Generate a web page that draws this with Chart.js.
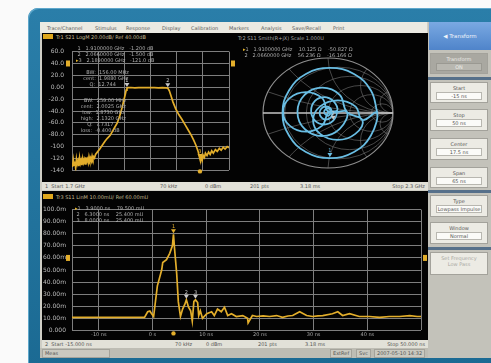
<!DOCTYPE html>
<html lang="en">
<head>
<meta charset="utf-8">
<title>Network analyzer – band-pass filter and time domain</title>
<script src="https://cdn.jsdelivr.net/npm/chart.js@4.4.1/dist/chart.umd.min.js"></script>
<style>
  html, body { margin:0; padding:0; }
  body { width:491px; height:363px; overflow:hidden; background:#fafafa; position:relative;
         font-family:"DejaVu Sans", "Liberation Sans", sans-serif; }
  .a { position:absolute; }
  #frame { left:28px; top:8px; width:470px; height:362px; border-radius:10px 0 0 0;
           background:linear-gradient(180deg,#2a7ea9 0%,#1b6a93 100%);
           box-shadow: inset 1px 1px 0 #5ea7cb; }
  #win { left:40px; top:22px; width:451px; height:336px; background:#cfcec5; }
  #menu { left:40px; top:22px; width:387px; height:11px; background:#ebeae2; font-size:5px; color:#5a5a5a; }
  #menu span { position:absolute; top:3px; white-space:nowrap; }
  .blk { background:#030303; }
  .badge { width:10px; height:5px; background:#e0a81c; }
  .ttl { font-size:5px; color:#c2bb92; white-space:nowrap; }
  .rd { font-size:5px; color:#aeaeae; white-space:pre; line-height:6px; }
  .rd .act { color:#e6b52a; }
  .bar { background:#e2e1d8; font-size:5px; color:#555; }
  .bar span { position:absolute; top:1px; white-space:nowrap; }
  canvas { position:absolute; }
  #side { left:428px; top:22px; width:63px; height:336px; background:#c3c2ba; }
  #side .hdr { position:absolute; left:1px; top:0; width:62px; height:28px;
               background:linear-gradient(180deg,#7aa9e2 0%,#4f84ca 100%);
               color:#eef3fa; font-size:5.5px; text-align:center; line-height:28px; }
  #side .btn { position:absolute; left:2px; width:58px; background:#ecebe4; border:1px solid #a3a29b;
               font-size:5px; color:#555; text-align:center; line-height:6px; padding-top:2px; box-sizing:border-box; }
  #side .btn .v { margin:1px 5px 0; background:#fbfbf8; border:1px solid #b8b7b0; line-height:6px; }
  #side .btn.dark { background:#a9a8a1; color:#eeeeea; }
  #side .btn.dark .v { background:#b8b7b0; border-color:#9a9992; }
  #side .btn.off { color:#a9a8a2; }
  #side .sep { position:absolute; left:0; width:63px; height:3px; background:#56708a; }
  #foot { left:40px; top:348px; width:388px; height:10px; background:#bebdb4; font-size:5px; color:#555; }
  #foot span { position:absolute; top:1px; height:7px; line-height:7px; padding:0 2px; white-space:nowrap;
               border:1px solid #a4a39b; background:#cac9c0; }
</style>
</head>
<body>
<div id="frame" class="a"></div>
<div id="win" class="a"></div>
<div id="menu" class="a">
  <span style="left:7px">Trace/Channel</span>
  <span style="left:55px">Stimulus</span>
  <span style="left:86px">Response</span>
  <span style="left:122px">Display</span>
  <span style="left:151px">Calibration</span>
  <span style="left:189px">Markers</span>
  <span style="left:221px">Analysis</span>
  <span style="left:252px">Save/Recall</span>
  <span style="left:293px">Print</span>
</div>

<!-- upper window: S21 log magnitude and S11 Smith chart -->
<div class="a blk" style="left:42px;top:33px;width:386px;height:149px"></div>
<div class="a badge" style="left:43px;top:34px"></div>
<div class="a ttl" style="left:56px;top:34px">Tr1 S21 LogM 20.00dB/ Ref 40.00dB</div>
<div class="a ttl" style="left:238px;top:35px;color:#a8a8a8">Tr2 S11 Smith(R+jX) Scale 1.000U</div>
<canvas id="s21Chart" width="193" height="142" style="left:42px;top:40px;width:193px;height:142px"></canvas>
<canvas id="smithChart" width="192" height="142" style="left:235px;top:40px;width:192px;height:142px"></canvas>
<div id="s21Readout" class="a rd" style="left:76px;top:45px"></div>
<div id="s21Bw" class="a rd" style="left:80px;top:69px"></div>
<div id="s21Bw60" class="a rd" style="left:76px;top:97px"></div>
<div id="smithReadout" class="a rd" style="left:243px;top:46px"></div>
<div class="a bar" style="left:42px;top:182px;width:386px;height:8px">
  <span style="left:3px">1&nbsp; Start 1.7 GHz</span>
  <span style="left:118px">70 kHz</span>
  <span style="left:163px">0 dBm</span>
  <span style="left:208px">201 pts</span>
  <span style="left:258px">3.18 ms</span>
  <span style="right:3px">Stop 2.3 GHz</span>
</div>

<!-- lower window: time-domain transform of S11 -->
<div class="a blk" style="left:42px;top:191px;width:386px;height:149px"></div>
<div class="a badge" style="left:43px;top:194px"></div>
<div class="a ttl" style="left:56px;top:194px">Tr3 S11 LinM 10.00mU/ Ref 60.00mU</div>
<canvas id="tdChart" width="385" height="140" style="left:42px;top:200px;width:385px;height:140px"></canvas>
<div id="tdReadout" class="a rd" style="left:75px;top:205px"></div>
<div class="a bar" style="left:42px;top:340px;width:386px;height:8px">
  <span style="left:3px">2&nbsp; Start -15.000 ns</span>
  <span style="left:133px">70 kHz</span>
  <span style="left:164px">0 dBm</span>
  <span style="left:216px">201 pts</span>
  <span style="left:263px">3.18 ms</span>
  <span style="right:3px">Stop 50.000 ns</span>
</div>
<div id="foot" class="a">
  <span style="left:2px;width:62px">Meas</span>
  <span style="left:290px">ExtRef</span>
  <span style="left:316px">Svc</span>
  <span style="left:334px">2007-05-10 14:32</span>
</div>

<!-- softkey panel -->
<div id="side" class="a">
  <div class="hdr">&#9664; Transform</div>
  <div class="btn dark" style="top:31px;height:21px">Transform<div class="v">ON</div></div>
  <div class="sep" style="top:55px"></div>
  <div class="btn" style="top:60px;height:21px">Start<div class="v">-15 ns</div></div>
  <div class="btn" style="top:87px;height:22px">Stop<div class="v">50 ns</div></div>
  <div class="btn" style="top:116px;height:22px">Center<div class="v">17.5 ns</div></div>
  <div class="btn" style="top:145px;height:21px">Span<div class="v">65 ns</div></div>
  <div class="sep" style="top:168px"></div>
  <div class="btn" style="top:173px;height:22px">Type<div class="v">Lowpass Impulse</div></div>
  <div class="btn" style="top:200px;height:22px">Window<div class="v">Normal</div></div>
  <div class="sep" style="top:225px"></div>
  <div class="btn off" style="top:230px;height:23px">Set Frequency<br>Low Pass</div>
</div>

<script>
// ---------- S21 band-pass response (log magnitude) ----------
const s21FreqMHz = [
  1700, 1702, 1705, 1708, 1711, 1714, 1717, 1720, 1723, 1726,
  1729, 1732, 1735, 1738, 1741, 1744, 1747, 1750, 1753, 1756,
  1759, 1762, 1765, 1768, 1771, 1774, 1777, 1780, 1783, 1786,
  1790, 1799, 1806, 1817, 1826, 1835, 1846, 1855, 1864, 1873,
  1882, 1891, 1897, 1903, 1907, 1910, 1913, 1925, 1940, 1955,
  1970, 1985, 2000, 2015, 2030, 2045, 2060, 2066, 2072, 2078,
  2086, 2096, 2108, 2120, 2132, 2144, 2156, 2165, 2174, 2182,
  2186, 2189, 2192, 2195, 2198, 2201, 2206, 2210, 2216, 2222,
  2228, 2234, 2240, 2248, 2255, 2263, 2270, 2278, 2285, 2293,
  2300
];
const s21Db = [
  -127, -134, -122, -131, -125, -136, -121, -129, -124, -133,
  -119, -128, -123, -131, -120, -127, -122, -129, -118, -125,
  -121, -127, -117, -123, -119, -124, -116, -121, -117, -119,
  -113, -108, -104, -97, -91, -86, -81, -74, -67, -60,
  -49, -35, -24, -13, -5, -1.2, -0.6, -0.4, -0.9, -0.5,
  -0.8, -0.4, -0.7, -0.5, -0.9, -0.6, -1.0, -1.5, -6, -14,
  -25, -36, -46, -54, -63, -72, -81, -89, -98, -108,
  -116, -121, -124, -117, -122, -114, -118, -111, -115, -109,
  -113, -107, -111, -105, -108, -103, -106, -101, -104, -100,
  -102
];
const s21TicksDb  = [60, 40, 20, 0, -20, -40, -60, -80, -100, -120, -140];
const s21TicksMHz = [1700, 1800, 1900, 2000, 2100, 2200, 2300];
const s21MarkersMHz = [1910, 2066, 2189];
const s21RefDb = 40;

// ---------- S11 on the Smith chart (reflection coefficient) ----------
const s11Re = [
  0.76, 0.66, 0.40, 0.03, -0.34, -0.60, -0.70, -0.60, -0.34, 0.03, 0.40, 0.66, 0.75,
  0.53, 0.42, 0.15, -0.12, -0.23, -0.12, 0.15, 0.42, 0.53,
  0.29, 0.18, -0.09, -0.36, -0.47, -0.36, -0.09, 0.18, 0.29,
  0.01, -0.09, -0.34, -0.59, -0.69, -0.59, -0.34, -0.09, 0.01,
  0.14, 0.08, -0.06, -0.20, -0.26, -0.20, -0.06, 0.08, 0.14,
  0.07, 0.04, -0.03, -0.10, -0.13, -0.10, -0.03, 0.04, 0.07,
  0.06, 0.00, -0.06, 0.00, 0.06
];
const s11Im = [
  0.00, 0.41, 0.71, 0.82, 0.71, 0.41, 0.00, -0.41, -0.71, -0.82, -0.71, -0.41, 0.01,
  -0.13, 0.12, 0.23, 0.12, -0.13, -0.38, -0.49, -0.38, -0.13,
  0.02, 0.33, 0.46, 0.33, 0.02, -0.29, -0.42, -0.29, 0.02,
  0.02, 0.27, 0.38, 0.27, 0.02, -0.23, -0.34, -0.23, 0.02,
  0.04, 0.22, 0.29, 0.22, 0.04, -0.14, -0.21, -0.14, 0.04,
  0.00, 0.085, 0.12, 0.085, 0.00, -0.085, -0.12, -0.085, 0.00,
  0.02, 0.09, 0.02, -0.05, 0.02
];
const smithMarkerIdx = [9, 47];
const smithResistances = [0.2, 0.5, 1, 2, 5];
const smithReactances  = [0.2, 0.5, 1, 2, 5];

// ---------- time-domain transform (linear magnitude, mU) ----------
const tdTimeNs = [
  -15, -1.5, -0.9, -0.5, -0.2, 0.2, 0.9, 1.7, 1.9, 2.6,
  3.2, 3.7, 3.9, 4.1, 4.5, 4.8, 5.2, 5.6, 6.0, 6.3,
  6.7, 7.1, 7.4, 7.7, 8.0, 8.4, 8.6, 8.9, 9.3, 10.1,
  11.0, 11.5, 12.1, 12.8, 13.4, 14.0, 14.7, 15.6, 16.8, 17.7,
  17.8, 18.6, 19.4, 20.6, 21.8, 23.1, 24.2, 25.2, 26.1, 27.4,
  28.7, 29.8, 30.8, 31.7, 33.5, 34.5, 35.4, 36.7, 38.5, 40.4,
  42.3, 44.1, 46.0, 47.9, 49.3, 50.0
];
const tdLinMagMU = [
  10.8, 10.8, 15.4, 16.0, 14.0, 11.5, 36.9, 50.0, 56.2, 58.5,
  63.8, 70.0, 79.5, 67.7, 46.9, 23.8, 11.5, 17.7, 21.5, 25.4,
  19.2, 16.2, 7.7, 24.0, 25.4, 23.1, 12.3, 16.2, 10.0, 13.8,
  15.4, 12.3, 17.7, 15.4, 19.2, 12.3, 13.8, 11.5, 12.3, 10.0,
  6.2, 12.3, 11.5, 12.0, 11.5, 12.3, 10.8, 11.9, 12.3, 15.4,
  12.3, 11.5, 12.0, 12.3, 13.8, 15.4, 12.3, 13.8, 11.5, 11.5,
  10.8, 11.5, 11.5, 12.3, 11.5, 11.5
];
const tdTicksMU = [0, 10, 20, 30, 40, 50, 60, 70, 80, 90, 100];
const tdTicksNs = [-15, -10, 0, 10, 20, 30, 40, 50];
const tdMarkersNs = [3.9, 6.3, 8.0];
const tdRefMU = 60;

// ---------- shared drawing helpers ----------
const TRACE_YELLOW = '#e3ae2b';
const GRID = '#7e7e7e';
const FONT = '"DejaVu Sans", "Liberation Sans", sans-serif';
Chart.defaults.font.family = FONT;

const pairs = (xs, ys) => xs.map((x, i) => ({ x, y: ys[i] }));
const setTicks = list => scale => { scale.ticks = list.map(v => ({ value: v })); };

// reference-position arrows on both sides of the grid
const refMarker = {
  id: 'refMarker',
  afterDraw(chart, args, opts) {
    if (opts.value === undefined) return;
    const { ctx, chartArea: a } = chart;
    const yy = chart.scales.y.getPixelForValue(opts.value);
    ctx.save();
    ctx.fillStyle = opts.color || TRACE_YELLOW;
    ctx.fillRect(a.left - 6, yy - 3, 4, 6);
    ctx.fillRect(a.right + 2, yy - 3, 4, 6);
    ctx.restore();
  }
};

// numbered marker flags on the trace, active one also flagged on the axis
const traceMarkers = {
  id: 'traceMarkers',
  afterDatasetsDraw(chart, args, opts) {
    if (!opts.points) return;
    const { ctx, chartArea: a, scales: { x, y } } = chart;
    ctx.save();
    ctx.font = '5px ' + FONT;
    ctx.textAlign = 'center';
    opts.points.forEach((p, i) => {
      const px = x.getPixelForValue(p.x), py = y.getPixelForValue(p.y);
      const active = i === opts.active;
      ctx.fillStyle = active ? (opts.activeColor || TRACE_YELLOW) : '#c8c8c8';
      ctx.beginPath();
      ctx.moveTo(px - 2.5, py - 5); ctx.lineTo(px + 2.5, py - 5); ctx.lineTo(px, py - 1);
      ctx.closePath(); ctx.fill();
      ctx.fillText(String(i + 1), px, py - 6);
      if (active && opts.axisFlag) {
        ctx.fillStyle = TRACE_YELLOW;
        ctx.beginPath(); ctx.arc(px, a.bottom + opts.axisFlag, 2.2, 0, 2 * Math.PI); ctx.fill();
      }
    });
    ctx.restore();
  }
};

// Smith chart grid built on the chart's own x/y scales (reflection plane)
const smithGrid = {
  id: 'smithGrid',
  beforeDatasetsDraw(chart) {
    const { ctx, scales: { x, y } } = chart;
    const cx = x.getPixelForValue(0), cy = y.getPixelForValue(0);
    const sx = x.getPixelForValue(1) - cx, sy = cy - y.getPixelForValue(1);
    const base = ctx.getTransform();
    const unitArc = (ux, uy, r) => {
      ctx.beginPath();
      ctx.translate(cx, cy); ctx.scale(sx, -sy);
      ctx.arc(ux, uy, r, 0, 2 * Math.PI);
      ctx.setTransform(base);
    };
    ctx.save();
    unitArc(0, 0, 1);
    ctx.clip();
    ctx.lineWidth = 1;
    ctx.strokeStyle = 'rgba(130,130,130,0.55)';
    smithResistances.forEach(r => { unitArc(r / (1 + r), 0, 1 / (1 + r)); ctx.stroke(); });
    smithReactances.forEach(xv => {
      unitArc(1, 1 / xv, 1 / xv); ctx.stroke();
      unitArc(1, -1 / xv, 1 / xv); ctx.stroke();
    });
    ctx.restore();
    ctx.save();
    ctx.strokeStyle = '#8e8e8e'; ctx.lineWidth = 1.2;
    unitArc(0, 0, 1); ctx.stroke();
    ctx.strokeStyle = '#c6c6c6'; ctx.lineWidth = 1.5;
    ctx.beginPath();
    ctx.moveTo(x.getPixelForValue(-1), cy); ctx.lineTo(x.getPixelForValue(1), cy);
    ctx.stroke();
    ctx.restore();
  }
};

const gridOpts = { color: GRID, lineWidth: 1, drawTicks: false };
const noAxisBox = { display: false };
const tickFont = { size: 6 };
const tickColor = '#bdbdbd';

// ---------- upper-left: S21 LogM ----------
const fmtDb = v => Math.abs(v) >= 100 ? v.toFixed(0) : (v === 0 ? '0.00' : v.toFixed(1));
const s21MarkerPts = s21MarkersMHz.map(f => ({ x: f, y: s21Db[s21FreqMHz.indexOf(f)] }));

new Chart(document.getElementById('s21Chart'), {
  type: 'line',
  data: { datasets: [{
    data: pairs(s21FreqMHz, s21Db),
    borderColor: TRACE_YELLOW, borderWidth: 1.7, pointRadius: 0, tension: 0
  }]},
  options: {
    responsive: false, animation: false, devicePixelRatio: 1, events: [],
    layout: { padding: { left: 0, right: 6, top: 7, bottom: 8 } },
    plugins: {
      legend: { display: false }, tooltip: { enabled: false },
      refMarker: { value: s21RefDb },
      traceMarkers: { points: s21MarkerPts, active: 2, axisFlag: 1 }
    },
    scales: {
      x: { type: 'linear', min: 1700, max: 2300, afterBuildTicks: setTicks(s21TicksMHz),
           ticks: { display: false }, grid: gridOpts, border: noAxisBox,
           afterFit: s => { s.height = 0; } },
      y: { type: 'linear', min: -140, max: 60, afterBuildTicks: setTicks(s21TicksDb),
           ticks: { color: tickColor, font: tickFont, padding: 8, callback: fmtDb },
           grid: gridOpts, border: noAxisBox, afterFit: s => { s.width = 30; } }
    }
  },
  plugins: [refMarker, traceMarkers]
});

// ---------- upper-right: S11 Smith chart ----------
const smithPts = pairs(s11Re, s11Im);
new Chart(document.getElementById('smithChart'), {
  type: 'scatter',
  data: { datasets: [{
    data: smithPts, showLine: true,
    borderColor: '#69bde3', borderWidth: 1.8, pointRadius: 0, tension: 0.42
  }]},
  options: {
    responsive: false, animation: false, devicePixelRatio: 1, events: [],
    layout: { padding: { left: 28, right: 34, top: 18, bottom: 14 } },
    plugins: {
      legend: { display: false }, tooltip: { enabled: false },
      traceMarkers: { points: smithMarkerIdx.map(i => smithPts[i]), active: 0, activeColor: '#69bde3' }
    },
    scales: {
      x: { type: 'linear', min: -1, max: 1, display: false },
      y: { type: 'linear', min: -1, max: 1, display: false }
    }
  },
  plugins: [smithGrid, traceMarkers]
});

// ---------- lower: time-domain LinM ----------
const fmtMU = v => v === 0 ? '0.000' : (v >= 100 ? v.toFixed(1) + 'm' : v.toFixed(2) + 'm');
const fmtNs = v => (v === tdTicksNs[0] || v === tdTicksNs[tdTicksNs.length - 1]) ? '' : (v === 0 ? '0 s' : v + ' ns');
const tdMarkerPts = tdMarkersNs.map(t => ({ x: t, y: tdLinMagMU[tdTimeNs.indexOf(t)] }));

new Chart(document.getElementById('tdChart'), {
  type: 'line',
  data: { datasets: [{
    data: pairs(tdTimeNs, tdLinMagMU),
    borderColor: TRACE_YELLOW, borderWidth: 1.7, pointRadius: 0, tension: 0
  }]},
  options: {
    responsive: false, animation: false, devicePixelRatio: 1, events: [],
    layout: { padding: { left: 0, right: 6, top: 3, bottom: 0 } },
    plugins: {
      legend: { display: false }, tooltip: { enabled: false },
      refMarker: { value: tdRefMU },
      traceMarkers: { points: tdMarkerPts, active: 0, axisFlag: 3 }
    },
    scales: {
      x: { type: 'linear', min: -15, max: 50, afterBuildTicks: setTicks(tdTicksNs),
           ticks: { color: '#a8a8a8', font: { size: 5 }, padding: 1, maxRotation: 0, autoSkip: false, callback: fmtNs },
           grid: gridOpts, border: noAxisBox, afterFit: s => { s.height = 7; } },
      y: { type: 'linear', min: 0, max: 100, afterBuildTicks: setTicks(tdTicksMU),
           ticks: { color: tickColor, font: tickFont, padding: 6, callback: fmtMU },
           grid: gridOpts, border: noAxisBox, afterFit: s => { s.width = 30; } }
    }
  },
  plugins: [refMarker, traceMarkers]
});

// ---------- marker readouts, taken from the plotted data ----------
const ghz = f => (f / 1000).toFixed(7) + ' GHz';
const db = v => (Math.abs(v) >= 100 ? v.toFixed(1) : v.toFixed(3)) + ' dB';
const line = (txt, active) => active ? '<span class="act">&#9656;</span>' + txt : ' ' + txt;

document.getElementById('s21Readout').innerHTML = s21MarkerPts
  .map((p, i) => line(`${i + 1}   ${ghz(p.x)}   ${db(p.y)}`, i === 2)).join('\n');

const [m1, m2] = s21MarkerPts;
const bw = m2.x - m1.x, cent = (m1.x + m2.x) / 2;
document.getElementById('s21Bw').textContent =
  `    BW:  ${bw.toFixed(2)} MHz\n  cent:  ${(cent / 1000).toFixed(4)} GHz\n      Q:  ${(cent / bw).toFixed(3)}`;

const peakIdx = s21Db.indexOf(Math.max(...s21Db));
const lowIdx = s21Db.findIndex(v => v >= -60);
const highIdx = s21Db.findIndex((v, i) => i > peakIdx && v <= -60);
const fl = s21FreqMHz[lowIdx], fh = s21FreqMHz[highIdx];
document.getElementById('s21Bw60').textContent = [
  `     BW:  ${(fh - fl).toFixed(2)} MHz`,
  `   cent:  ${((fl + fh) / 2000).toFixed(4)} GHz`,
  `    low:  ${(fl / 1000).toFixed(4)} GHz`,
  `   high:  ${(fh / 1000).toFixed(4)} GHz`,
  `       Q:  ${(((fl + fh) / 2) / (fh - fl)).toFixed(4)}`,
  `   loss:  ${s21Db[peakIdx].toFixed(3)} dB`
].join('\n');

const zOf = (re, im) => {               // Z = 50 (1 + G) / (1 - G)
  const dr = 1 - re, di = -im, den = dr * dr + di * di;
  return { r: 50 * ((1 + re) * dr + im * di) / den, x: 50 * (im * dr - (1 + re) * di) / den };
};
document.getElementById('smithReadout').innerHTML = smithMarkerIdx.map((k, i) => {
  const z = zOf(s11Re[k], s11Im[k]);
  return line(`${i + 1}   ${ghz(s21MarkersMHz[i])}    ${z.r.toFixed(3)} \u03A9    ${z.x.toFixed(3)} \u03A9`, i === 0);
}).join('\n');

document.getElementById('tdReadout').innerHTML = tdMarkerPts
  .map((p, i) => line(`${i + 1}   ${p.x.toFixed(4)} ns    ${p.y.toFixed(3)} mU`, i === 0)).join('\n');
</script>
</body>
</html>
